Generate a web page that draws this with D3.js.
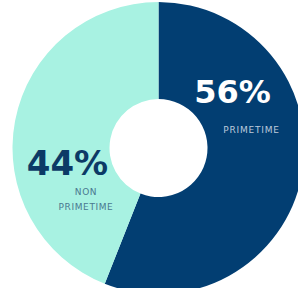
<!DOCTYPE html>
<html>
<head>
<meta charset="utf-8">
<script src="https://cdn.jsdelivr.net/npm/d3@7/dist/d3.min.js"></script>
<style>
  html, body { margin: 0; padding: 0; background: #fff; overflow: hidden; }
  svg { display: block; }
</style>
</head>
<body>
<script>
// data
const categories = ["PRIMETIME", "NON PRIMETIME"];
const values = [56, 44];
const pctLabels = ["56%", "44%"];

const width = 298, height = 288;
const cx = 158.5, cy = 148;
const outerR = 146, innerR = 49;

const svg = d3.select("body")
    .append("svg")
    .attr("width", width)
    .attr("height", height);

// navy gradient on the primetime slice
const defs = svg.append("defs");
const grad = defs.append("linearGradient")
    .attr("id", "navyGrad")
    .attr("gradientUnits", "userSpaceOnUse")
    .attr("x1", cx).attr("y1", 0)
    .attr("x2", cx + outerR).attr("y2", 0);
grad.append("stop").attr("offset", "0%").attr("stop-color", "#023e72");
grad.append("stop").attr("offset", "50%").attr("stop-color", "#04345f");
grad.append("stop").attr("offset", "100%").attr("stop-color", "#082645");

const fills = ["url(#navyGrad)", "#a8f2e2"];

const pie = d3.pie().sort(null).value(d => d);
const arc = d3.arc().innerRadius(innerR).outerRadius(outerR);

const g = svg.append("g").attr("transform", `translate(${cx},${cy})`);

g.selectAll("path")
    .data(pie(values))
    .join("path")
    .attr("d", arc)
    .attr("fill", (d, i) => fills[i]);

// labels
const bigFont = "'DejaVu Sans', sans-serif";
const smallFont = "'DejaVu Sans', sans-serif";

svg.append("text")
    .attr("x", 232.5).attr("y", 103)
    .attr("text-anchor", "middle")
    .attr("font-family", bigFont)
    .attr("font-weight", 700)
    .attr("font-size", 32)
    .attr("fill", "#ffffff")
    .text(pctLabels[0]);

svg.append("text")
    .attr("x", 251.5).attr("y", 133)
    .attr("text-anchor", "middle")
    .attr("font-family", smallFont)
    .attr("font-size", 9)
    .attr("letter-spacing", 0.8)
    .attr("fill", "#bccadb")
    .text(categories[0]);

svg.append("text")
    .attr("x", 67.5).attr("y", 175)
    .attr("text-anchor", "middle")
    .attr("font-family", bigFont)
    .attr("font-weight", 700)
    .attr("font-size", 34)
    .attr("fill", "#0c3a66")
    .text(pctLabels[1]);

const nonLines = categories[1].split(" ");
svg.append("text")
    .attr("text-anchor", "middle")
    .attr("font-family", smallFont)
    .attr("font-size", 9)
    .attr("letter-spacing", 0.6)
    .attr("fill", "#4a7890")
    .selectAll("tspan")
    .data(nonLines)
    .join("tspan")
    .attr("x", 86)
    .attr("y", (d, i) => 195 + i * 14.5)
    .text(d => d);
</script>
</body>
</html>
